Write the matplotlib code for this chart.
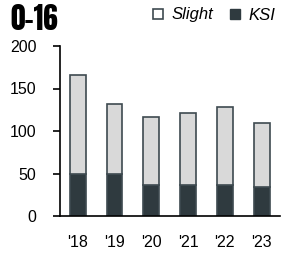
import matplotlib
matplotlib.use("Agg")
import matplotlib.pyplot as plt
from matplotlib.lines import Line2D

years = ["'18", "'19", "'20", "'21", "'22", "'23"]
ksi = [50, 49, 36, 36, 36, 34]
total = [166, 132, 116, 121, 128, 110]
slight = [t - k for t, k in zip(total, ksi)]

edge = "#3e4a50"
dark = "#2f3a3f"
light = "#d9d9d9"

plt.rcParams['font.family'] = ['Liberation Sans', 'DejaVu Sans']

fig = plt.figure(figsize=(2.86, 2.54), dpi=100)
ax = fig.add_axes([60/286, 1-216/254, 220/286, 170/254])

x = range(len(years))
ax.bar(x, ksi, width=0.43, color=dark, edgecolor=edge, linewidth=1.2)
ax.bar(x, slight, bottom=ksi, width=0.43, color=light, edgecolor=edge, linewidth=1.2)

ax.set_xlim(-0.48, 5.5)
ax.set_ylim(0, 200)
ax.set_yticks([0, 50, 100, 150, 200])
ax.set_xticks(list(x))
ax.set_xticklabels(years)
ax.spines['top'].set_visible(False)
ax.spines['right'].set_visible(False)
ax.spines['left'].set_linewidth(1.2)
ax.spines['bottom'].set_linewidth(1.2)
ax.tick_params(axis='y', length=5, width=1.2, labelsize=11.5, pad=12)
ax.tick_params(axis='x', length=0, labelsize=11.5, pad=14)

fig.text(10/286, 1-19/254, "0-16", fontsize=21, fontweight='bold', style='normal',
         family=['Anton', 'Oswald', 'Barlow Condensed', 'DejaVu Sans'],
         va='center', ha='left')

handles = [Line2D([], [], marker='s', linestyle='', markersize=7,
                  markerfacecolor='white', markeredgecolor=edge, markeredgewidth=1.2),
           Line2D([], [], marker='s', linestyle='', markersize=7,
                  markerfacecolor=dark, markeredgecolor=dark)]
fig.legend(handles, ['Slight', 'KSI'], loc='center right',
           bbox_to_anchor=(290/286, 1-15/254), ncol=2, frameon=False,
           prop={'style': 'italic', 'size': 12}, handletextpad=0.3,
           columnspacing=0.8, handlelength=1.0)

fig.savefig("out.png", dpi=100)
